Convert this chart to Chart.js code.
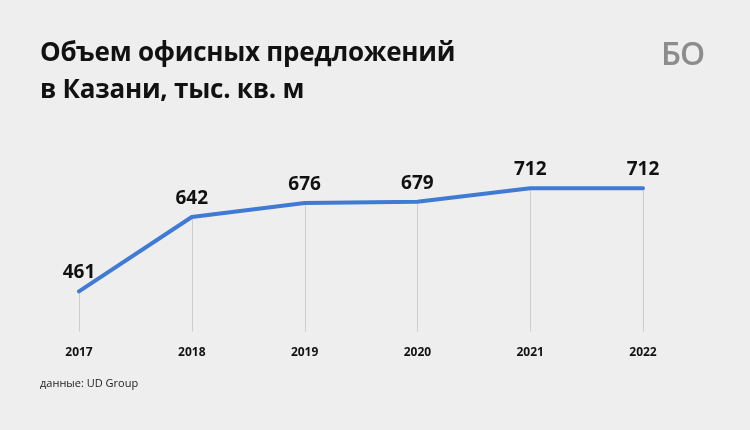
<!DOCTYPE html>
<html>
<head>
<meta charset="utf-8">
<script src="https://cdn.jsdelivr.net/npm/chart.js@4"></script>
<style>
  html, body { margin: 0; padding: 0; background: #eeeeee; }
  #wrap { position: relative; width: 750px; height: 430px; overflow: hidden; font-family: "Open Sans", "Noto Sans", sans-serif; }
  #title { position: absolute; left: 40px; top: 33px; font-size: 26px; font-weight: 700; line-height: 37px; color: #111; letter-spacing: -0.25px; }
  #logo { position: absolute; left: 661px; top: 31px; font-size: 32px; font-weight: 600; color: #8c8c8c; letter-spacing: -1px; }
  #source { position: absolute; left: 40px; top: 375px; font-size: 11px; color: #222; }
  canvas { position: absolute; left: 0; top: 0; }
</style>
</head>
<body>
<div id="wrap">
  <canvas id="OfficeChart" width="750" height="430"></canvas>
  <div id="title">Объем офисных предложений<br>в Казани, тыс. кв. м</div>
  <div id="logo">БО</div>
  <div id="source">данные: UD Group</div>
</div>
<script>
var years = ['2017', '2018', '2019', '2020', '2021', '2022'];
var office_volume = [461, 642, 676, 679, 712, 712];

// vertical lines from each point down to the bottom of the chart, and value labels
var pointDecor = {
  id: 'pointDecor',
  beforeDatasetsDraw(chart) {
    var c = chart.ctx;
    var meta = chart.getDatasetMeta(0);
    c.save();
    c.strokeStyle = '#cdcdcd';
    c.lineWidth = 1;
    meta.data.forEach(p => {
      c.beginPath();
      c.moveTo(Math.round(p.x) + 0.5, p.y);
      c.lineTo(Math.round(p.x) + 0.5, chart.chartArea.bottom);
      c.stroke();
    });
    c.restore();
  },
  afterDatasetsDraw(chart) {
    var c = chart.ctx;
    var meta = chart.getDatasetMeta(0);
    c.save();
    c.fillStyle = '#111';
    c.font = 'bold 19px "Open Sans", "Noto Sans", sans-serif';
    c.textAlign = 'center';
    c.textBaseline = 'bottom';
    meta.data.forEach((p, i) => {
      c.fillText(office_volume[i], p.x, p.y - 9);
    });
    c.restore();
  }
};

var ctx = document.getElementById('OfficeChart');
var myLineChart = new Chart(ctx, {
  type: 'line',
  data: {
    labels: years,
    datasets: [{
      data: office_volume,
      borderColor: '#3f7bd4',
      borderWidth: 4,
      pointRadius: 0,
      tension: 0,
      borderCapStyle: 'round',
      borderJoinStyle: 'round'
    }]
  },
  options: {
    responsive: false,
    animation: false,
    layout: { padding: { left: 79, right: 107, top: 150, bottom: 64 } },
    plugins: { legend: { display: false }, tooltip: { enabled: false } },
    scales: {
      x: {
        offset: false,
        grid: { display: false },
        border: { display: false },
        ticks: {
          color: '#111',
          padding: 6,
          font: { family: '"Open Sans", "Noto Sans", sans-serif', size: 12, weight: 'bold' }
        }
      },
      y: {
        display: false,
        min: 363,
        max: 805
      }
    }
  },
  plugins: [pointDecor]
});
</script>
</body>
</html>
